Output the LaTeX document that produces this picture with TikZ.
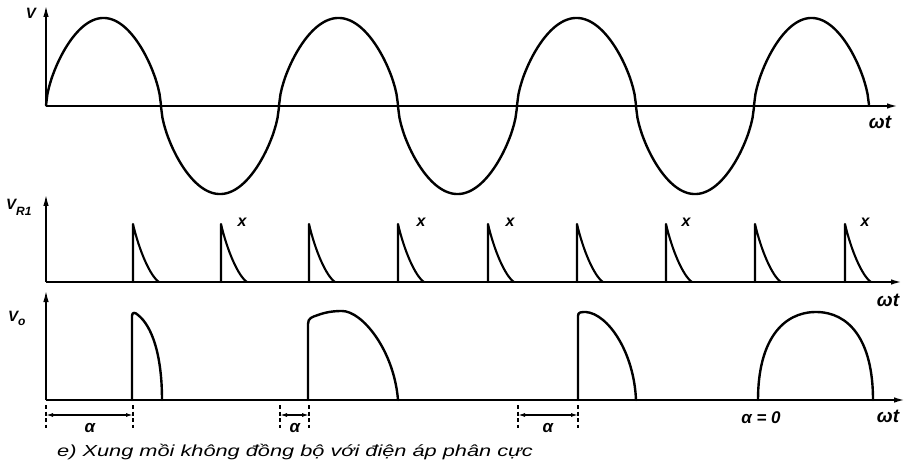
\documentclass[tikz,border=0pt]{standalone}
\usepackage{fontspec}
\setsansfont{Liberation Sans}
\usetikzlibrary{arrows.meta}
\begin{document}
\begin{tikzpicture}[x=1pt,y=-1pt,
  wave/.style={line width=2.4pt,line cap=round,line join=round},
  axis/.style={line width=1.8pt,-{Latex[length=11pt,width=5.5pt]}},
  yaxis/.style={line width=1.8pt,-{Latex[length=12pt,width=5.5pt]}},
  lab/.style={font=\sffamily\itshape\bfseries\fontsize{15}{15}\selectfont,inner sep=0pt},
  wt/.style={font=\sffamily\itshape\bfseries\fontsize{19}{19}\selectfont,inner sep=0pt},
  xm/.style={font=\sffamily\itshape\bfseries\fontsize{16}{16}\selectfont,inner sep=0pt},
  al/.style={font=\sffamily\itshape\bfseries\fontsize{17}{17}\selectfont,inner sep=0pt},
  tick/.style={line width=1.3pt,dash pattern=on 4pt off 2.5pt},
  dim/.style={line width=1.3pt,{Latex[length=7pt,width=4pt]}-{Latex[length=7pt,width=4pt]}}]
\useasboundingbox (0,0) rectangle (910,465);
% ---------- top panel ----------
\coordinate (o1) at (46,106);
\coordinate (y1) at (46,5);
\coordinate (x1) at (898,106);
\draw[axis] (o1) -- (x1);
\draw[yaxis] (o1) -- (y1);
\foreach \a/\b/\s in {46/161/1,161/279/-1,279/398/1,398/517/-1,517/636/1,636/754/-1,754/869/1}
  \draw[wave] plot[domain=0:1,samples=81] ({\a+(\b-\a)*\x},{106-(\s)*88*exp(0.62*ln(abs(sin(180*\x))+0.0004))});
\node[lab] (lv) at (31,13) {V};
\node[wt] (wt1) at (880,122) {ωt};
% ---------- V_R1 panel ----------
\coordinate (o2) at (46,282);
\coordinate (y2) at (46,194);
\coordinate (x2) at (902,282);
\draw[axis] (o2) -- (x2);
\draw[yaxis] (o2) -- (y2);
\foreach \p in {133,221,309,398,488,577,666,755,845}
  \draw[wave,line width=2.1pt] (\p,282) -- (\p,224) .. controls (\p+6,250) and (\p+17,276) .. (\p+26,282);
\node[lab,anchor=west] (lvr) at (6,207) {V\raisebox{-6pt}{\fontsize{12}{12}\selectfont R1}};
\foreach \xx [count=\i] in {242,421,510,686,865}
  \node[xm] (xm\i) at (\xx,222) {x};
\node[wt] (wt2) at (888,300) {ωt};
% ---------- V_o panel ----------
\coordinate (o3) at (46,400);
\coordinate (y3) at (46,290);
\coordinate (x3) at (905,400);
\draw[axis] (o3) -- (x3);
\draw[yaxis] (o3) -- (y3);
\draw[wave] (132,400) -- (132,316) .. controls (132,312) and (135,312) .. (138,315) .. controls (152,326) and (162,355) .. (162,400);
\draw[wave] (308,400) -- (308,324) .. controls (308,318) and (312,317) .. (318,315) .. controls (326,312) and (334,311) .. (342,311) .. controls (362,311) and (394,350) .. (398,400);
\draw[wave] (578,400) -- (578,316) .. controls (578,312) and (581,312) .. (586,312) .. controls (608,314) and (634,352) .. (636,400);
\draw[wave] (758,400) .. controls (758,340) and (783,312) .. (816,312) .. controls (849,312) and (873,340) .. (873,400);
\node[lab,anchor=west] (lvo) at (8,318) {V\raisebox{-4pt}{\fontsize{12}{12}\selectfont o}};
\node[wt] (wt3) at (888,416) {ωt};
% ---------- alpha dimensions ----------
\foreach \n/\xx in {a/46,b/133,c/280,d/309,e/518,f/578}{
  \coordinate (\n t) at (\xx,405);
  \coordinate (\n b) at (\xx,428);
  \coordinate (\n m) at (\xx,415);
  \draw[tick] (\n t) -- (\n b);
}
\draw[dim] (am) -- (bm);
\draw[dim] (cm) -- (dm);
\draw[dim] (em) -- (fm);
\node[al] (al1) at (90,428) {α};
\node[al] (al2) at (295,428) {α};
\node[al] (al3) at (548,428) {α};
\node[al] (al0) at (761,418) {α = 0};
% ---------- caption ----------
\node[anchor=west,inner sep=0pt,font=\sffamily\itshape\fontsize{16}{16}\selectfont] (cap) at (57,452)
  {\scalebox{1.36}[1]{e) Xung mồi không đồng bộ với điện áp phân cực}};
\end{tikzpicture}
\end{document}
